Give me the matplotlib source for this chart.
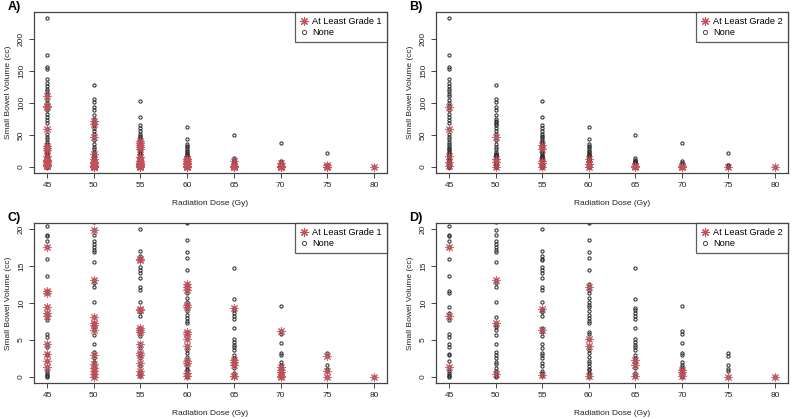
import matplotlib
matplotlib.use('Agg')
import matplotlib.pyplot as plt
from matplotlib.lines import Line2D

plt.rcParams['font.family'] = ['Liberation Sans', 'DejaVu Sans']

doses = [45, 50, 55, 60, 65, 70, 75, 80]

# volumes (cc) of patients with no toxicity, by dose
none_vol = {
    45: [232, 174, 155, 153, 137, 131, 126, 122, 118, 114, 104, 99, 88, 83, 78, 73, 68,
         52, 47, 43, 39, 36, 28, 24, 22, 20.4, 19.2, 19.0, 18.4, 16.0, 13.6, 7.7, 5.8,
         5.4, 4.0, 3.0, 0.8, 0.5, 0.3, 0.1, 0.0],
    50: [128, 106, 101, 93.5, 88, 80.5, 74, 70, 65, 60, 55.6, 52, 41.5, 36.3, 31, 28.5,
         23.4, 21, 19.15, 18.4, 18.0, 17.6, 17.1, 16.9, 15.6, 12.7, 12.1, 10.1, 6.7, 5.7,
         4.5, 3.4, 2.6, 2.1, 0.5, 0.2],
    55: [102, 78, 65, 60, 56, 52, 49, 46, 43, 39, 35, 32, 29, 26, 24, 22, 20, 17.0, 16.3,
         14.9, 14.4, 14.0, 13.4, 12.2, 11.8, 10.2, 8.8, 8.2, 5.5, 3.9, 2.6, 1.5, 0.5, 0.1],
    60: [62, 43.5, 36, 33, 30.5, 28, 25.5, 23, 21, 20.8, 18.5, 16.9, 16.1, 14.5, 11.3,
         10.7, 10.1, 8.9, 8.4, 8.0, 7.6, 7.3, 3.7, 3.3, 2.7, 1.5, 1.1, 0.9, 0.4, 0.0],
    65: [50, 14.7, 10.5, 9.0, 8.6, 8.3, 7.8, 6.6, 5.15, 4.7, 4.3, 4.0, 3.7, 3.0, 2.6, 1.2, 0.5],
    70: [37, 9.6, 5.8, 4.6, 3.3, 3.0, 2.0, 1.6, 1.1, 0.7],
    75: [22, 3.2, 1.6, 1.1],
    80: [],
}

# grade 1 only
g1_vol = {
    45: [110, 95.5, 33, 30, 26, 11.6, 11.4, 9.5, 8.6, 4.4, 3.1, 2.2],
    50: [71, 67.5, 19.9, 8.1, 7.0, 6.4, 3.0, 1.7, 1.25, 0.8, 0.0],
    55: [41, 37, 31, 16.0, 15.8, 9.0, 6.6, 6.1, 4.5, 3.3, 2.95, 1.9, 0.8],
    60: [12.5, 11.8, 9.7, 9.4, 6.1, 5.8, 2.2, 1.9, 0.6],
    65: [9.3, 2.0, 0.1],
    70: [6.2, 1.3, 0.0],
    75: [2.85, 0.8],
    80: [],
}

# grade 2 or worse
g2_vol = {
    45: [93, 58.5, 17.6, 8.2, 1.3],
    50: [46.7, 13.1, 7.3, 0.4],
    55: [34, 28, 9.2, 6.3, 0.3],
    60: [12.1, 5.1, 4.2, 0.2],
    65: [2.3, 1.6, 0.2],
    70: [0.9, 0.65, 0.2],
    75: [0.0],
    80: [0.0],
}

RED = '#c4505a'
DARK = '#2e2e2e'


def flatten(groups):
    xs, ys = [], []
    for d in doses:
        for g in groups:
            xs += [d] * len(g[d])
            ys += g[d]
    return xs, ys


def panel(ax, red_groups, black_groups, grade, ymax, yticks, label):
    bx, by = flatten(black_groups)
    rx, ry = flatten(red_groups)
    # all points as open circles, toxic ones overplotted with asterisks
    ax.plot(bx + rx, by + ry, 'o', ms=2.3, mfc='none', mec=DARK, mew=0.75,
            linestyle='none')
    ax.plot(rx, ry, marker=(8, 2, 0), ms=6, color=RED, mew=0.8,
            linestyle='none', alpha=0.8)

    pad = 0.04 * ymax
    ax.set_ylim(-pad, ymax + pad)
    ax.set_xlim(45 - 0.04 * 35, 80 + 0.04 * 35)
    ax.set_xticks(doses)
    ax.set_yticks(yticks)
    ax.set_yticklabels([str(t) for t in yticks], rotation=90, va='center')
    ax.tick_params(labelsize=6, length=3.5, width=0.7, color='#444444', pad=3,
                   labelcolor='#222222')
    for s in ax.spines.values():
        s.set_color('#444444')
        s.set_linewidth(0.9)
    ax.set_xlabel('Radiation Dose (Gy)', fontsize=6, labelpad=8, color='#222222')
    ax.set_ylabel('Small Bowel Volume (cc)', fontsize=6, labelpad=4, color='#222222')

    handles = [
        Line2D([], [], marker=(8, 2, 0), ms=6, color=RED, mew=0.8, linestyle='none'),
        Line2D([], [], marker='o', ms=3, mfc='none', mec=DARK, mew=0.6, linestyle='none'),
    ]
    leg = ax.legend(handles, ['At Least Grade %d' % grade, 'None'], loc='upper right',
                    fontsize=6.6, frameon=True, fancybox=False, borderaxespad=0,
                    handlelength=0.8, handletextpad=0.5, borderpad=0.55,
                    labelspacing=0.2)
    leg.get_frame().set_edgecolor('#333333')
    leg.get_frame().set_linewidth(0.9)

    ax.text(-0.075, 1.03, label, transform=ax.transAxes, fontsize=9,
            fontweight='bold', ha='left', va='center')


fig = plt.figure(figsize=(7.92, 4.19), dpi=100)
axA = fig.add_axes([0.0429, 0.5871, 0.4457, 0.3843])
axB = fig.add_axes([0.5505, 0.5871, 0.4444, 0.3843])
axC = fig.add_axes([0.0429, 0.0859, 0.4457, 0.3819])
axD = fig.add_axes([0.5505, 0.0859, 0.4444, 0.3819])

panel(axA, [g1_vol, g2_vol], [none_vol], 1, 232, [0, 50, 100, 150, 200], 'A)')
panel(axB, [g2_vol], [none_vol, g1_vol], 2, 232, [0, 50, 100, 150, 200], 'B)')
panel(axC, [g1_vol, g2_vol], [none_vol], 1, 20, [0, 5, 10, 15, 20], 'C)')
panel(axD, [g2_vol], [none_vol, g1_vol], 2, 20, [0, 5, 10, 15, 20], 'D)')

fig.savefig('out.png', dpi=100)
plt.close(fig)
